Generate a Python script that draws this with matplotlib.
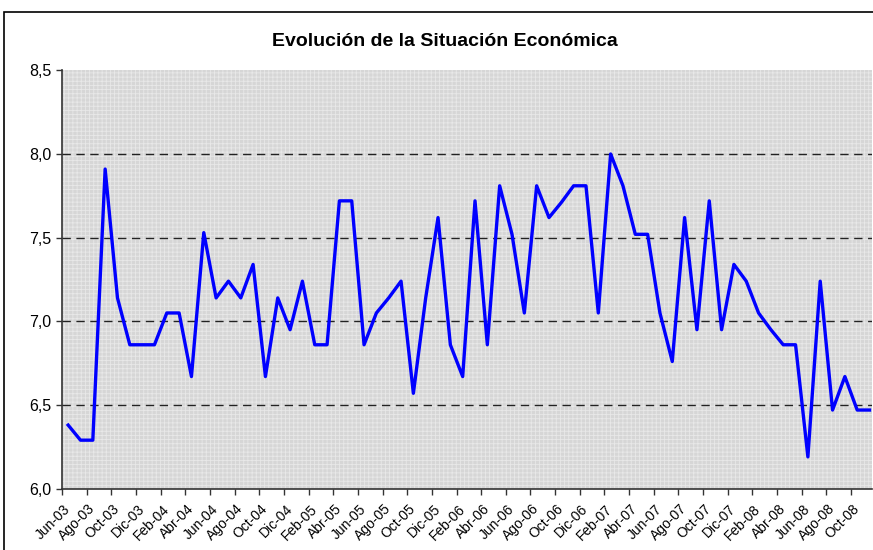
import matplotlib
matplotlib.use("Agg")
import matplotlib.pyplot as plt
from matplotlib.patches import Rectangle

plt.rcParams['font.family'] = ['Liberation Sans', 'DejaVu Sans']
plt.rcParams['hatch.linewidth'] = 0.6

# months Jun-03 .. Nov-08
meses = ['Ene', 'Feb', 'Mar', 'Abr', 'May', 'Jun', 'Jul', 'Ago', 'Sep', 'Oct', 'Nov', 'Dic']
etiquetas = []
for anio in range(3, 9):
    for m in meses:
        etiquetas.append(f"{m}-{anio:02d}")
etiquetas = etiquetas[5:5 + 66]

valores = [6.38, 6.29, 6.29, 7.91, 7.14, 6.86, 6.86, 6.86, 7.05, 7.05,
           6.67, 7.53, 7.14, 7.24, 7.14, 7.34, 6.67, 7.14, 6.95, 7.24,
           6.86, 6.86, 7.72, 7.72, 6.86, 7.05, 7.14, 7.24, 6.57, 7.14,
           7.62, 6.86, 6.67, 7.72, 6.86, 7.81, 7.52, 7.05, 7.81, 7.62,
           7.71, 7.81, 7.81, 7.05, 8.00, 7.81, 7.52, 7.52, 7.05, 6.76,
           7.62, 6.95, 7.72, 6.95, 7.34, 7.24, 7.05, 6.95, 6.86, 6.86,
           6.19, 7.24, 6.47, 6.67, 6.47, 6.47]

y_ticks = [6.0, 6.5, 7.0, 7.5, 8.0, 8.5]
y_labels = ['6,0', '6,5', '7,0', '7,5', '8,0', '8,5']

fig = plt.figure(figsize=(8.73, 5.5), dpi=100)

# chart area border (right/bottom run off the picture)
fig.patches.append(Rectangle((4 / 873, -0.1), 1.1, (550 - 12) / 550 + 0.1,
                             transform=fig.transFigure, fill=False,
                             edgecolor='black', linewidth=1.2))

ax = fig.add_axes([62 / 873, 61.3 / 550, 810 / 873, 418.4 / 550])
ax.set_facecolor('#d6d6d6')
ax.add_patch(Rectangle((0, 0), 1, 1, transform=ax.transAxes, facecolor='none',
                       edgecolor='#e8e8e8', hatch='++++', linewidth=0, zorder=0))

x = list(range(len(valores)))
ax.plot(x, valores, color='#0000ff', linewidth=2.4, zorder=3)

for v in y_ticks[1:-1]:
    ax.axhline(v, color='#222222', linewidth=1.0, dashes=(6, 4), zorder=2)

ax.set_xlim(-0.5, 65.2)
ax.set_ylim(6.0, 8.5)
ax.set_yticks(y_ticks)
ax.set_yticklabels(y_labels, fontsize=11.5)

ax.set_xticks([i - 0.5 for i in range(0, 66, 2)])
ax.set_xticklabels([])
ax.set_xticks(list(range(0, 66, 2)), minor=True)
ax.set_xticklabels(etiquetas[0:66:2], minor=True, rotation=45, ha='right',
                   va='center', rotation_mode='anchor', fontsize=10)
ax.tick_params(axis='x', which='minor', length=0, pad=13)
ax.tick_params(axis='both', which='major', length=4, width=1, color='#333333')

for s in ['top', 'right']:
    ax.spines[s].set_visible(False)
for s in ['left', 'bottom']:
    ax.spines[s].set_color('#333333')
    ax.spines[s].set_linewidth(1.2)

fig.text(445 / 873, 1 - 42 / 550, 'Evolución de la Situación Económica',
         ha='center', va='center', fontsize=14, fontweight='bold')

fig.savefig('out.png', dpi=100)
